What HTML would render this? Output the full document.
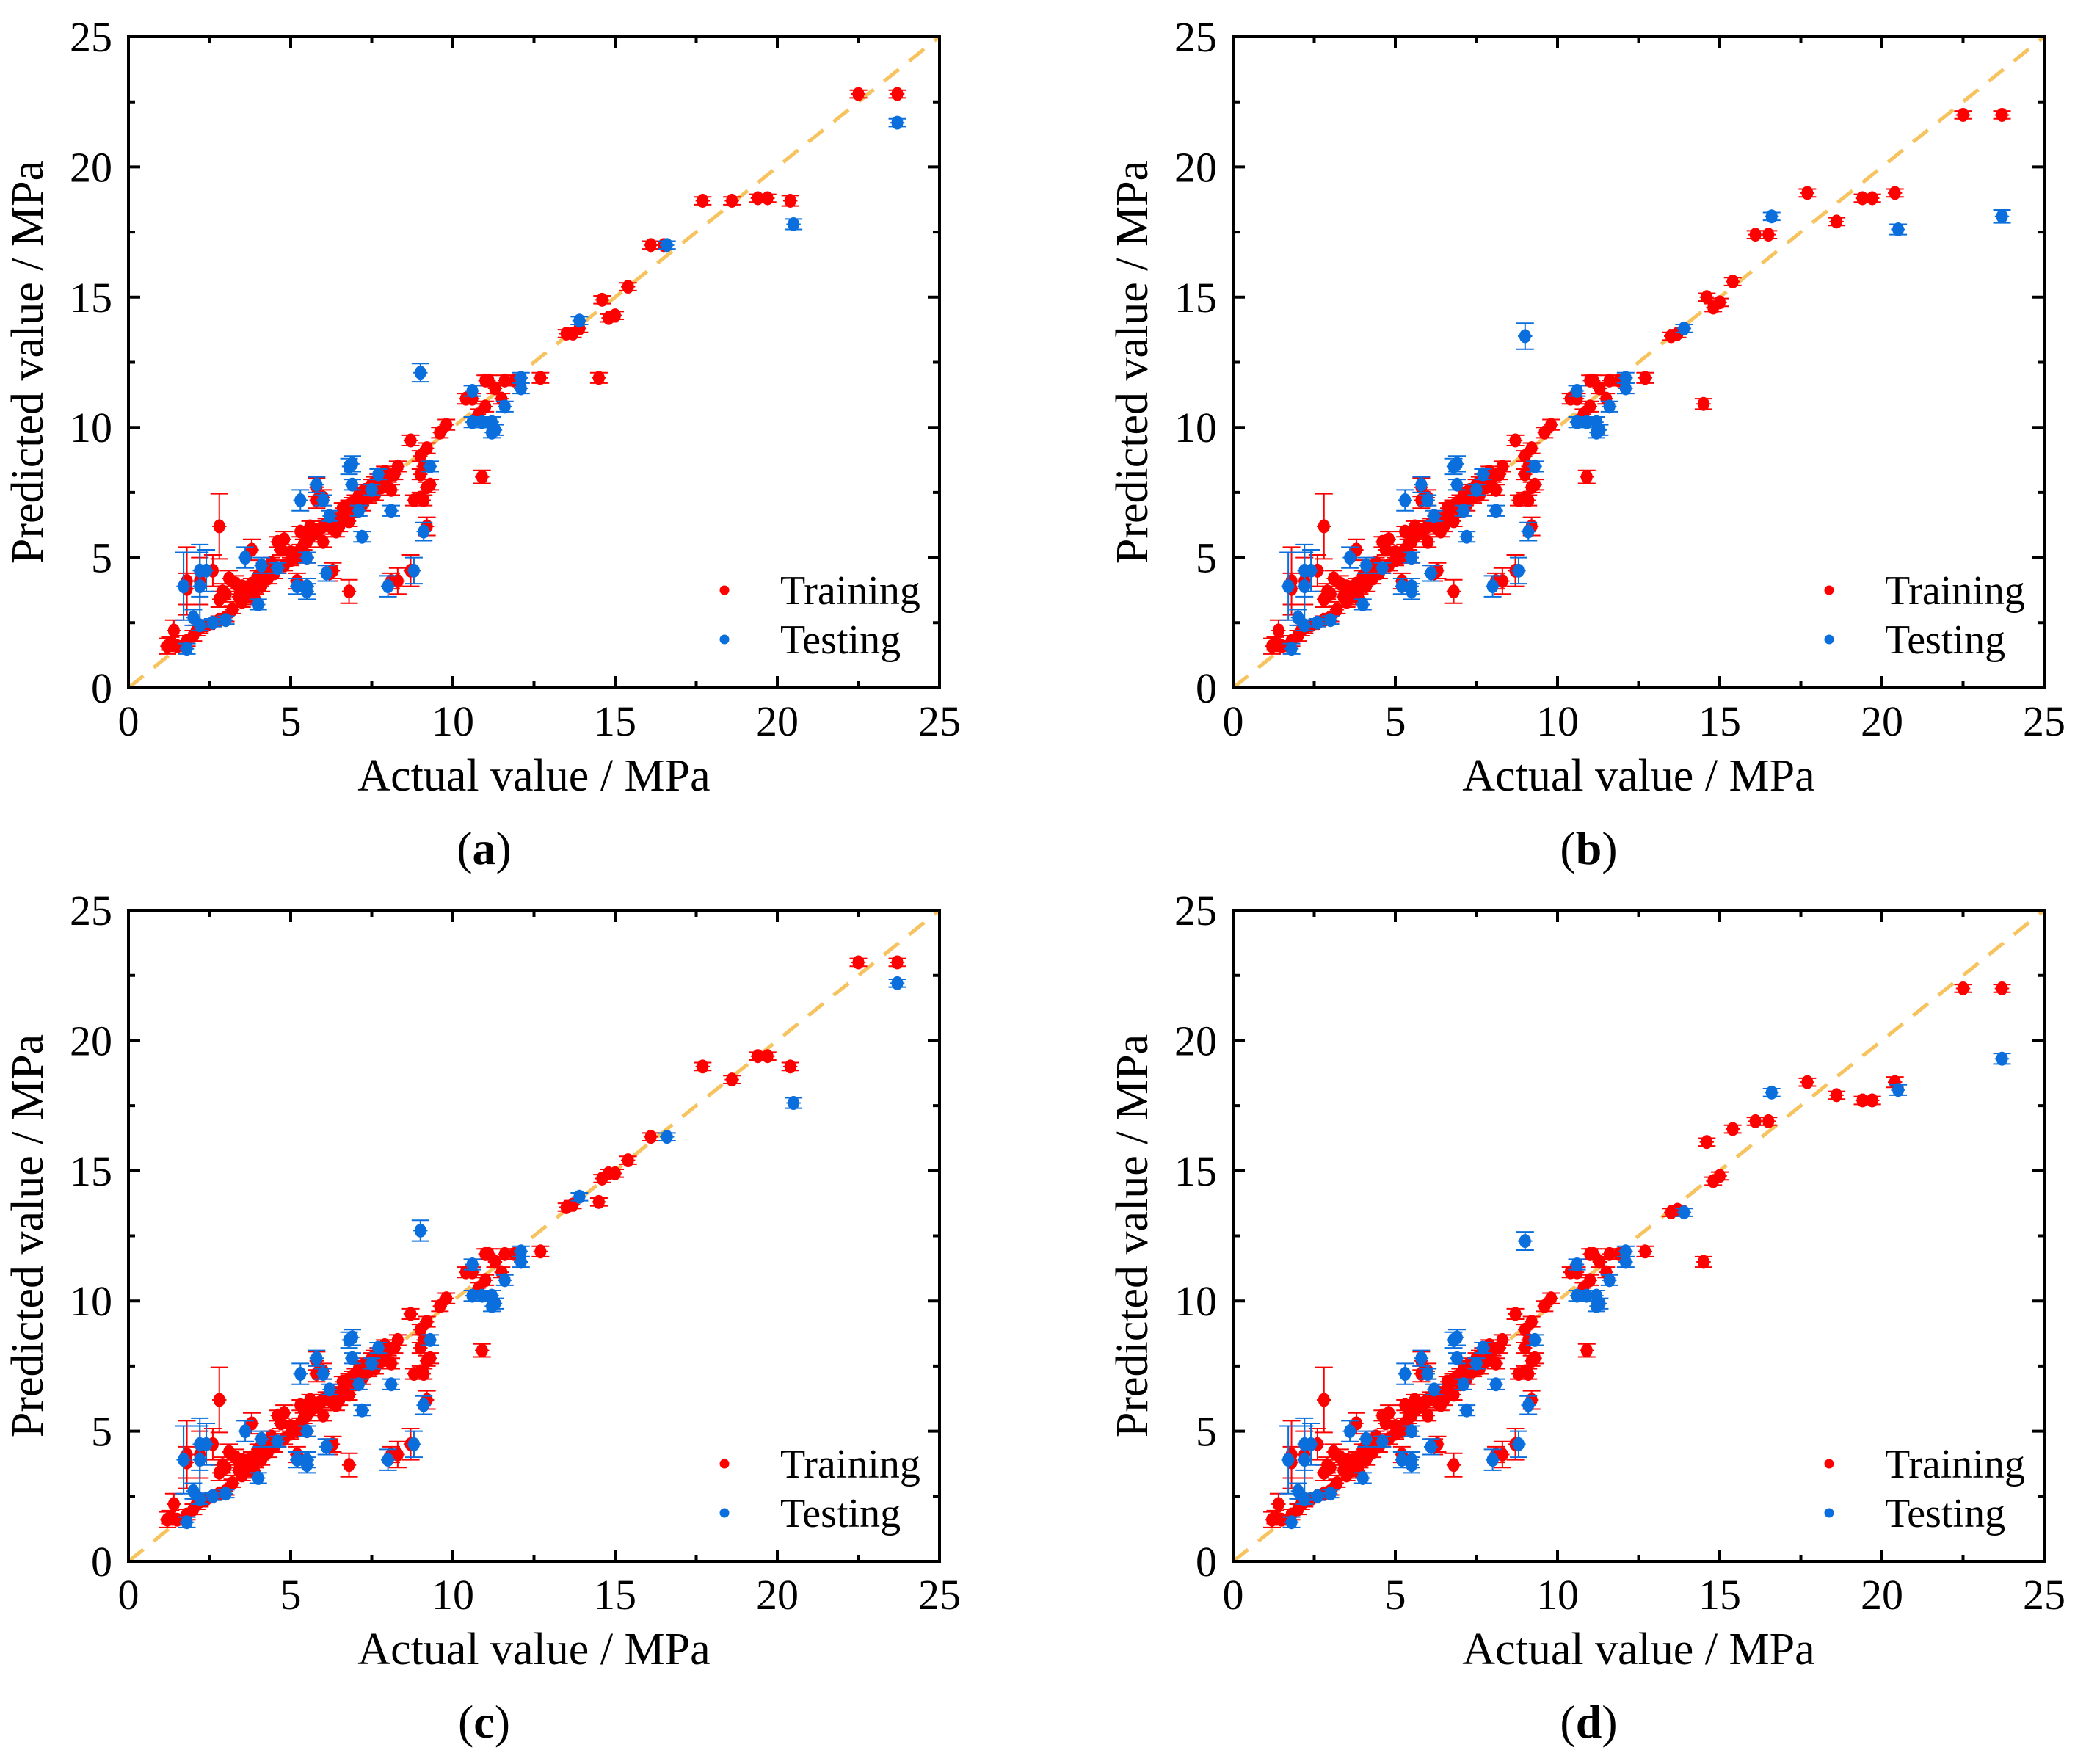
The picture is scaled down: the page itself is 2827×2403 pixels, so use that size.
<!DOCTYPE html>
<html><head><meta charset="utf-8">
<style>
html,body{margin:0;padding:0;background:#fff;}
svg, svg text{font-family:"Liberation Serif","Times New Roman","DejaVu Serif",serif;}
</style></head>
<body>
<svg id="fig" width="2827" height="2398" viewBox="0 0 2827 2398" xmlns="http://www.w3.org/2000/svg" font-family="Liberation Serif, serif"></svg>
<script>
// ---- data: [actual, predicted, yErr] ----
const lowTrain = [[1.2,1.6,0.3],[1.3,1.7,0.25],[1.5,1.6,0.2],[1.4,2.2,0.4],[1.8,1.8,0.2],[2.0,2.0,0.2],[2.1,2.2,0.2],[2.2,2.3,0.2],[2.4,2.4,0.15],[2.6,2.5,0.15],[2.8,2.6,0.15],[3.0,2.7,0.15],[3.2,3.0,0.15],[3.5,3.3,0.2],[3.7,3.5,0.2],[3.6,3.7,0.2],[3.9,3.8,0.2],[4.1,3.9,0.2],[4.3,4.2,0.2],[4.5,4.4,0.2],[4.6,4.6,0.2],[4.8,4.7,0.2],[5.0,4.9,0.2],[5.1,5.1,0.2],[5.2,5.0,0.2],[5.3,5.3,0.2],[5.4,5.5,0.2],[5.5,5.6,0.2],[5.6,5.8,0.2],[5.7,5.9,0.2],[5.8,6.0,0.2],[5.9,6.1,0.2],[6.0,6.2,0.2],[6.1,6.3,0.2],[6.2,6.3,0.2],[6.3,6.5,0.2],[6.5,6.2,0.2],[6.6,6.6,0.2],[6.7,6.9,0.2],[6.8,7.0,0.2],[6.9,7.1,0.2],[7.0,7.2,0.2],[7.1,7.4,0.2],[7.2,7.5,0.2],[7.3,7.6,0.2],[7.4,7.3,0.2],[7.5,7.8,0.2],[7.6,7.9,0.2],[7.7,8.0,0.2],[7.8,7.7,0.2],[7.9,7.9,0.2],[8.0,8.1,0.2],[8.2,8.2,0.2],[8.3,8.5,0.2],[8.1,7.6,0.2],[7.8,8.0,0.2],[7.0,6.8,0.2],[6.8,6.4,0.2],[6.4,6.0,0.2],[6.0,5.6,0.2],[5.5,5.0,0.2],[5.0,5.2,0.2],[4.7,5.3,0.2],[4.6,5.6,0.2],[4.2,4.6,0.2],[4.0,4.3,0.2],[3.8,4.0,0.2],[3.5,3.9,0.2],[3.0,3.6,0.3],[2.8,3.4,0.3],[2.9,3.7,0.3],[3.1,4.2,0.3],[3.3,4.0,0.3],[3.4,3.5,0.3],[2.8,6.2,1.25],[2.6,4.5,0.6],[2.2,4.1,0.9],[1.8,4.1,1.3],[1.8,3.8,0.6],[3.8,5.3,0.4],[4.8,5.7,0.3],[5.8,7.7,0.35],[6.0,7.3,0.3],[5.8,7.2,0.3],[6.3,4.5,0.3],[6.2,4.4,0.3],[5.2,4.1,0.3],[6.8,3.7,0.45],[8.3,4.1,0.5],[8.7,4.5,0.6],[8.1,4.1,0.3],[8.8,7.2,0.2],[9.0,7.3,0.2],[9.2,7.7,0.2],[9.3,7.8,0.2],[9.1,7.2,0.2],[9.0,8.2,0.2],[9.1,8.5,0.2],[9.2,9.2,0.2],[8.7,9.5,0.2],[9.0,8.9,0.2],[9.6,9.8,0.2],[9.8,10.1,0.2],[9.2,6.2,0.35],[10.4,11.1,0.2],[10.6,11.1,0.2],[10.8,10.5,0.2],[11.0,11.8,0.2],[11.1,11.8,0.2],[11.3,11.5,0.2],[11.0,10.8,0.2],[11.5,11.1,0.2],[11.6,11.8,0.2],[11.9,11.8,0.2],[12.7,11.9,0.2],[10.9,8.1,0.25],[6.3,6.1,0.2],[6.6,6.9,0.2],[7.2,7.0,0.2],[7.6,7.4,0.2],[5.6,6.2,0.2],[5.3,6.0,0.2],[4.4,4.8,0.2],[3.9,3.4,0.2],[4.3,4.5,0.2],[7.9,8.3,0.2]];
const lowTest = [[1.8,1.5,0.2],[1.7,3.9,1.3],[2.2,3.9,1.3],[2.2,4.5,1.0],[2.4,4.5,0.8],[2.0,2.7,0.3],[2.2,2.4,0.2],[2.6,2.5,0.15],[3.0,2.6,0.15],[3.6,5.0,0.4],[4.0,3.2,0.2],[4.1,4.7,0.3],[4.6,4.6,0.2],[5.2,3.9,0.3],[5.5,3.9,0.3],[5.5,3.7,0.3],[5.5,5.0,0.2],[5.3,7.2,0.4],[5.8,7.8,0.3],[6.0,7.2,0.2],[6.1,4.4,0.3],[6.2,6.6,0.2],[6.8,8.5,0.3],[6.9,8.6,0.3],[6.9,7.8,0.2],[7.1,6.8,0.2],[7.2,5.8,0.2],[7.5,7.6,0.2],[7.7,8.2,0.2],[8.1,6.8,0.2],[8.0,3.9,0.4],[8.8,4.5,0.5],[9.1,6.0,0.35],[9.3,8.5,0.2],[10.6,10.2,0.2],[10.6,11.4,0.2],[10.9,10.2,0.2],[11.2,10.2,0.2],[11.2,9.8,0.2],[11.3,9.9,0.2],[11.6,10.8,0.2],[12.1,11.5,0.2],[12.1,11.9,0.2]];
const highTrainA = [[13.5,13.6,0.15],[13.7,13.6,0.15],[13.9,13.8,0.15],[14.6,14.9,0.15],[14.8,14.2,0.15],[15.0,14.3,0.15],[14.5,11.9,0.2],[15.4,15.4,0.15],[16.1,17.0,0.15],[16.5,17.0,0.15],[17.7,18.7,0.15],[18.6,18.7,0.15],[19.4,18.8,0.15],[19.7,18.8,0.15],[20.4,18.7,0.2],[22.5,22.8,0.15],[23.7,22.8,0.15]];
const highTestA = [[9.0,12.1,0.35],[13.9,14.1,0.15],[16.6,17.0,0.15],[20.5,17.8,0.2],[23.7,21.7,0.15]];
const highTrainB = [[13.5,13.5,0.15],[13.7,13.6,0.15],[14.6,15.0,0.15],[14.8,14.6,0.15],[15.0,14.8,0.15],[14.5,10.9,0.2],[15.4,15.6,0.15],[16.1,17.4,0.15],[16.5,17.4,0.15],[17.7,19.0,0.15],[18.6,17.9,0.15],[19.4,18.8,0.15],[19.7,18.8,0.15],[20.4,19.0,0.15],[22.5,22.0,0.15],[23.7,22.0,0.15]];
const highTestB = [[9.0,13.5,0.5],[13.9,13.8,0.15],[16.6,18.1,0.15],[20.5,17.6,0.2],[23.7,18.1,0.25]];
const highTrainC = [[13.5,13.6,0.15],[13.7,13.7,0.15],[14.6,14.7,0.15],[14.8,14.9,0.15],[15.0,14.9,0.15],[14.5,13.8,0.15],[15.4,15.4,0.15],[16.1,16.3,0.15],[17.7,19.0,0.15],[18.6,18.5,0.15],[19.4,19.4,0.15],[19.7,19.4,0.15],[20.4,19.0,0.15],[22.5,23.0,0.15],[23.7,23.0,0.15]];
const highTestC = [[9.0,12.7,0.4],[13.9,14.0,0.15],[16.6,16.3,0.15],[20.5,17.6,0.2],[23.7,22.2,0.15]];
const highTrainD = [[13.5,13.4,0.15],[13.7,13.5,0.15],[14.6,16.1,0.15],[14.8,14.6,0.15],[15.0,14.8,0.15],[14.5,11.5,0.2],[15.4,16.6,0.15],[16.1,16.9,0.15],[16.5,16.9,0.15],[17.7,18.4,0.15],[18.6,17.9,0.15],[19.4,17.7,0.15],[19.7,17.7,0.15],[20.4,18.4,0.2],[22.5,22.0,0.15],[23.7,22.0,0.15]];
const highTestD = [[9.0,12.3,0.35],[13.9,13.4,0.15],[16.6,18.0,0.15],[20.5,18.1,0.2],[23.7,19.3,0.2]];
const tickValues = [0,5,10,15,20,25];
const panelLabels = ["a","b","c","d"];

const NS="http://www.w3.org/2000/svg";
const FONT='"Liberation Serif", "Times New Roman", serif';
const fig=document.getElementById('fig');
function mk(tag,attrs,parent){const e=document.createElementNS(NS,tag);for(const k in attrs)e.setAttribute(k,attrs[k]);if(tag==='text'){e.setAttribute('font-family','Liberation Serif, Times New Roman, serif');e.style.fontFamily=FONT;}(parent||fig).appendChild(e);return e;}

const W=1105,H=887;
const panels=[
 {ox:175,oy:50,train:highTrainA,test:highTestA},
 {ox:1680,oy:50,train:highTrainB,test:highTestB},
 {ox:175,oy:1240,train:highTrainC,test:highTestC},
 {ox:1680,oy:1240,train:highTrainD,test:highTestD}
];
const RED="#ff0000",BLUE="#0a6fdc";

panels.forEach((p,i)=>{
  const g=mk('g',{});
  
  
  const sx=v=>p.ox+v/25*W, sy=v=>p.oy+H-v/25*H;
  const diag=mk('line',{x1:sx(0),y1:sy(0),x2:sx(25),y2:sy(25),stroke:"#f7c35f","stroke-width":5,"stroke-dasharray":"26,18"},g);
  
  
  function drawSeries(pts,color,name){
    const sg=mk('g',{},g);
    
    
    pts.forEach(d=>{
      const x=sx(d[0]),y=sy(d[1]),e=d[2];
      const y1=sy(d[1]+e),y2=sy(d[1]-e),xe=0.22;
      mk('path',{d:`M${x},${y1}V${y2}M${x-12},${y1}H${x+12}M${x-12},${y2}H${x+12}M${sx(d[0]-xe)},${y}H${sx(d[0]+xe)}`,stroke:color,"stroke-width":2,fill:"none"},sg);
      const c=mk('ellipse',{cx:x,cy:y,rx:8,ry:9.5,fill:color},sg);
      
      
    });
  }
  drawSeries(lowTrain,RED,'training-series-low');
  drawSeries(p.train,RED,'training-series-high');
  drawSeries(lowTest,BLUE,'testing-series-low');
  drawSeries(p.test,BLUE,'testing-series-high');
  const fr=mk('rect',{x:p.ox,y:p.oy,width:W,height:H,fill:"none",stroke:"#000","stroke-width":4},g);
  
  
  let tp="";
  for(let v=0;v<=25;v+=2.5){
    const L=(v%5===0)?16:9;
    const x=sx(v),y=sy(v);
    tp+=`M${x},${p.oy+H}v${-L}M${x},${p.oy}v${L}M${p.ox},${y}h${L}M${p.ox+W},${y}h${-L}`;
  }
  const tk=mk('path',{d:tp,stroke:"#000","stroke-width":4,fill:"none"},g);
  
  
  tickValues.forEach(v=>{
    const t1=mk('text',{x:sx(v),y:p.oy+H+65,"font-size":58,"text-anchor":"middle"},g);
    t1.textContent=v;
    
    
    const t2=mk('text',{x:p.ox-22,y:sy(v)+20,"font-size":58,"text-anchor":"end"},g);
    t2.textContent=v;
    
    
  });
  const xt=mk('text',{x:p.ox+W/2,y:p.oy+H+140,"font-size":62,"text-anchor":"middle"},g);
  xt.textContent="Actual value / MPa";
  
  
  const yx=p.ox-117,yy=p.oy+H/2;
  const yt=mk('text',{x:yx,y:yy,"font-size":62,"text-anchor":"middle",transform:`rotate(-90 ${yx} ${yy})`},g);
  yt.textContent="Predicted value / MPa";
  
  
  const pl=mk('text',{x:p.ox+W/2-68,y:p.oy+H+240,"font-size":64,"text-anchor":"middle"},g);
  pl.innerHTML='(<tspan font-weight="bold">'+panelLabels[i]+'</tspan>)';
  
  
  const lg=mk('g',{},g);
  
  
  [["Training",RED,754],["Testing",BLUE,821]].forEach(e=>{
    mk('circle',{cx:p.ox+812,cy:p.oy+e[2],r:6.5,fill:e[1]},lg);
    const lt=mk('text',{x:p.ox+888,y:p.oy+e[2]+19,"font-size":56},lg);
    lt.textContent=e[0];
    
    
  });
});
</script>
</body></html>
